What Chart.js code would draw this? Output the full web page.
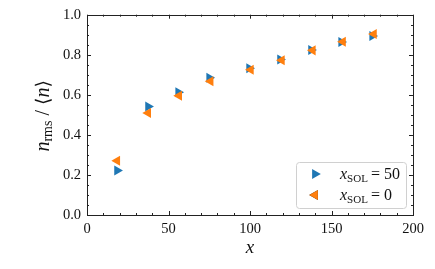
<!DOCTYPE html>
<html>
<head>
<meta charset="utf-8">
<script src="https://cdn.jsdelivr.net/npm/chart.js@4"></script>
<style>
  html, body { margin: 0; padding: 0; background: #fff; }
  #wrap { width: 435px; height: 269px; }
</style>
</head>
<body>
<div id="wrap"><canvas id="chart" width="435" height="269"></canvas></div>
<script>
// values
const blueX = [18.5, 37.5, 56, 75, 99.5, 118.5, 137.5, 156, 175];
const blueY = [0.222, 0.542, 0.613, 0.685, 0.733, 0.776, 0.824, 0.864, 0.894];
const orangeX = [18.5, 37.5, 56.5, 75.8, 100.5, 119.5, 138.5, 157, 176];
const orangeY = [0.271, 0.509, 0.595, 0.668, 0.725, 0.773, 0.822, 0.865, 0.904];
const xTicks = [0, 50, 100, 150, 200];
const yTicks = [0.0, 0.2, 0.4, 0.6, 0.8, 1.0];
const seriesNames = ['50', '0'];

const FONT = '"Liberation Serif", "Times New Roman", serif';
const BLUE = '#1f77b4';
const ORANGE = '#ff7f0e';
const MARK = 5.8;

function pts(xs, ys) {
  return xs.map((x, i) => ({ x: x, y: ys[i] }));
}

// draws frame, inward ticks, axis titles and legend
const decor = {
  id: 'decor',
  afterDraw(chart) {
    const ctx = chart.ctx;
    const a = chart.chartArea;
    const xs = chart.scales.x, ys = chart.scales.y;
    ctx.save();
    ctx.strokeStyle = '#222';
    ctx.lineWidth = 1;
    ctx.strokeRect(Math.round(a.left) + 0.5, Math.round(a.top) + 0.5,
      Math.round(a.right - a.left), Math.round(a.bottom - a.top));

    ctx.beginPath();
    for (let v = 0; v <= 200; v += 10) {
      const p = Math.round(xs.getPixelForValue(v)) + 0.5;
      const len = v % 50 === 0 ? 4 : 2;
      ctx.moveTo(p, a.bottom); ctx.lineTo(p, a.bottom - len);
      ctx.moveTo(p, a.top); ctx.lineTo(p, a.top + len);
    }
    for (let k = 0; k <= 20; k++) {
      const p = Math.round(ys.getPixelForValue(k * 0.05)) + 0.5;
      const len = k % 4 === 0 ? 4 : 2;
      ctx.moveTo(a.left, p); ctx.lineTo(a.left + len, p);
      ctx.moveTo(a.right, p); ctx.lineTo(a.right - len, p);
    }
    ctx.stroke();

    // x title
    ctx.fillStyle = '#111';
    ctx.font = 'italic 19px ' + FONT;
    ctx.textAlign = 'center';
    ctx.textBaseline = 'alphabetic';
    ctx.fillText('x', (a.left + a.right) / 2, 253);

    // y title: n_rms / <n>
    ctx.save();
    ctx.translate(49, (a.top + a.bottom) / 2 + 1);
    ctx.rotate(-Math.PI / 2);
    const parts = [
      { t: 'n', f: 'italic 20px ' + FONT, dy: 0 },
      { t: 'rms', f: '14px ' + FONT, dy: 3 },
      { t: ' / ', f: '20px ' + FONT, dy: 0 },
      { t: '\u27E8', f: '19px "DejaVu Serif", serif', dy: 0 },
      { t: 'n', f: 'italic 20px ' + FONT, dy: 0 },
      { t: '\u27E9', f: '19px "DejaVu Serif", serif', dy: 0 }
    ];
    let total = 0;
    parts.forEach(p => { ctx.font = p.f; p.w = ctx.measureText(p.t).width; total += p.w; });
    let cx = -total / 2;
    ctx.textAlign = 'left';
    parts.forEach(p => { ctx.font = p.f; ctx.fillText(p.t, cx, p.dy); cx += p.w; });
    ctx.restore();

    // legend
    const lw = 110, lh = 46;
    const lx = a.right - 7 - lw, ly = a.bottom - 7 - lh;
    ctx.beginPath();
    ctx.roundRect(lx + 0.5, ly + 0.5, lw, lh, 3);
    ctx.fillStyle = 'rgba(255,255,255,0.85)';
    ctx.fill();
    ctx.strokeStyle = '#d0d0d0';
    ctx.stroke();
    const cols = [BLUE, ORANGE], rots = [90, -90];
    seriesNames.forEach((name, i) => {
      const yy = ly + 12 + i * 21;
      Chart.helpers.drawPoint(ctx, {
        pointStyle: 'triangle', rotation: rots[i], radius: MARK, borderWidth: 0
      }, lx + 19, yy);
      ctx.fillStyle = cols[i];
      ctx.fill();
      ctx.fillStyle = '#111';
      ctx.textAlign = 'left';
      let tx = lx + 44;
      ctx.font = 'italic 16px ' + FONT;
      ctx.fillText('x', tx, yy + 5); tx += ctx.measureText('x').width;
      ctx.font = '11px ' + FONT;
      ctx.fillText('SOL', tx, yy + 8); tx += ctx.measureText('SOL').width + 3;
      ctx.font = '16px ' + FONT;
      ctx.fillText('= ' + name, tx, yy + 5);
    });
    ctx.restore();
  }
};

new Chart(document.getElementById('chart'), {
  type: 'scatter',
  data: {
    datasets: [
      {
        label: 'x_SOL = 50',
        data: pts(blueX, blueY),
        pointStyle: 'triangle',
        rotation: 90,
        pointRadius: MARK,
        pointHoverRadius: MARK,
        borderWidth: 0,
        backgroundColor: BLUE,
        order: 1
      },
      {
        label: 'x_SOL = 0',
        data: pts(orangeX, orangeY),
        pointStyle: 'triangle',
        rotation: -90,
        pointRadius: MARK,
        pointHoverRadius: MARK,
        borderWidth: 0,
        backgroundColor: ORANGE,
        order: 0
      }
    ]
  },
  options: {
    responsive: false,
    animation: false,
    layout: { padding: { top: 14, right: 22, left: 0, bottom: 0 } },
    plugins: { legend: { display: false }, tooltip: { enabled: false } },
    scales: {
      x: {
        type: 'linear', min: 0, max: 200,
        afterBuildTicks: s => { s.ticks = xTicks.map(v => ({ value: v })); },
        afterFit: s => { s.height = 54; },
        grid: { display: false, drawTicks: false },
        border: { display: false },
        ticks: { color: '#111', padding: 5, maxRotation: 0, font: { family: FONT, size: 14.5 } }
      },
      y: {
        type: 'linear', min: 0, max: 1,
        afterBuildTicks: s => { s.ticks = yTicks.map(v => ({ value: v })); },
        afterFit: s => { s.width = 87; },
        grid: { display: false, drawTicks: false },
        border: { display: false },
        ticks: { color: '#111', padding: 6, font: { family: FONT, size: 14.5 },
          callback: v => Number(v).toFixed(1) }
      }
    }
  },
  plugins: [decor]
});
</script>
</body>
</html>
